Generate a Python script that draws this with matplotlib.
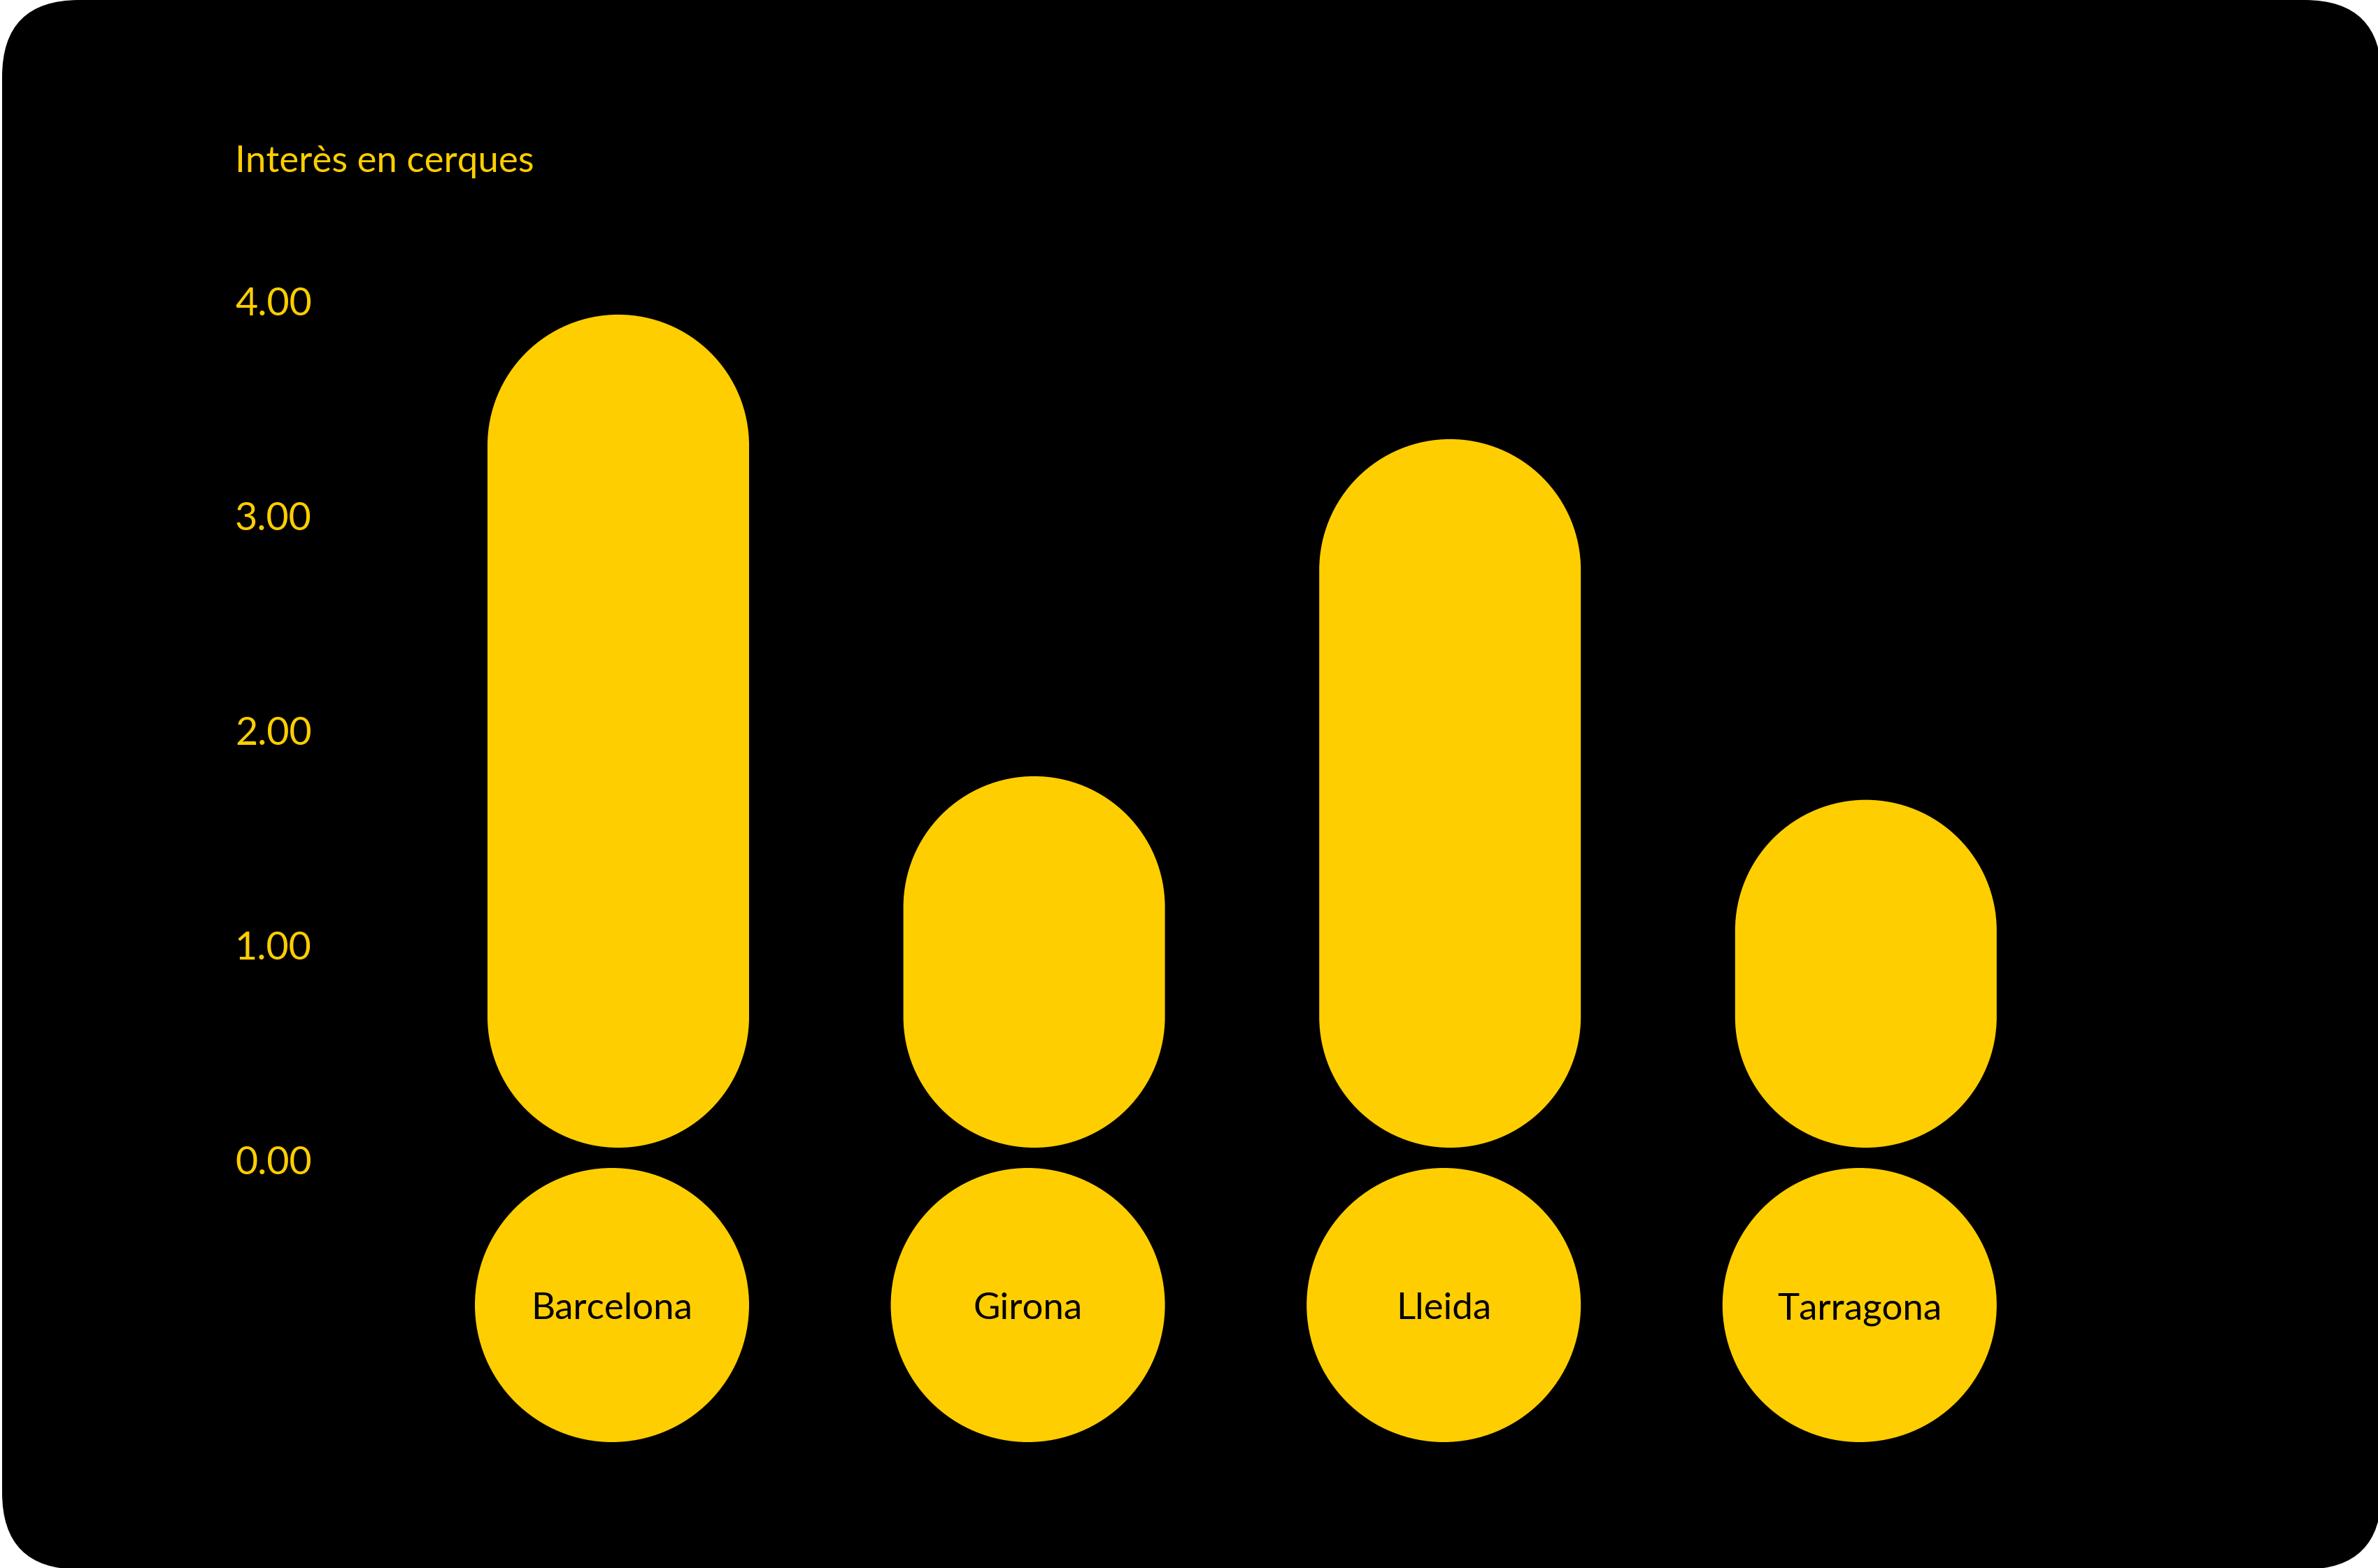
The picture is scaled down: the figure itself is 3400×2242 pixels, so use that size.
import matplotlib
matplotlib.use("Agg")
import numpy as np
import matplotlib.pyplot as plt
from matplotlib.patches import FancyBboxPatch, Ellipse, PathPatch
from matplotlib.path import Path

# ----------------------------
# Data
# ----------------------------

cities = ["Barcelona", "Girona", "Lleida", "Tarragona"]
interest = [3.88, 1.73, 3.30, 1.62]
ticks = [0, 1, 2, 3, 4]
tick_labels = ["0.00", "1.00", "2.00", "3.00", "4.00"]
title = "Interès en cerques"

YELLOW = "#FFCE00"
BLACK = "#000000"
plt.rcParams["font.family"] = ["Lato", "DejaVu Sans"]

# ----------------------------
# Layout (pixels)
# ----------------------------

W, H = 3400, 2242
px_x = 594.6    # pixels per category step
px_y = 307      # pixels per value unit
x0_px = 884     # centre of first bar
y0_px = 1641    # value 0
bar_w = 374 / px_x
circ_d = 392 / px_x
aspect = px_x / px_y
r_x = bar_w / 2
r_y = r_x * aspect


def pill(x, top):
    # vertical bar from 0 to top with fully rounded ends
    up = Path.arc(0, 180)
    down = Path.arc(180, 360)
    v1 = up.vertices * [r_x, r_y] + [x, top - r_y]
    v2 = down.vertices * [r_x, r_y] + [x, r_y]
    c2 = down.codes.copy()
    c2[0] = Path.LINETO
    verts = np.vstack([v1, v2, v1[:1]])
    codes = np.concatenate([up.codes, c2, [Path.CLOSEPOLY]])
    return Path(verts, codes)


fig = plt.figure(figsize=(W / 100, H / 100), dpi=100)
fig.patch.set_facecolor("white")

# rounded black card
bg = fig.add_axes([0, 0, 1, 1])
bg.set_xlim(0, W)
bg.set_ylim(H, 0)
bg.axis("off")
bg.add_patch(FancyBboxPatch((3, 0), 3402, 2244,
                            boxstyle="round,pad=0,rounding_size=110",
                            fc=BLACK, ec="none"))

# ----------------------------
# Chart
# ----------------------------

ax = fig.add_axes([0, 0, 1, 1])
ax.patch.set_alpha(0)
ax.set_xlim(-x0_px / px_x, (W - x0_px) / px_x)
ax.set_ylim(-(H - y0_px) / px_y, y0_px / px_y)
ax.axis("off")

circ_y = -(1866 - y0_px) / px_y
name_base = -(1886 - y0_px) / px_y

for i, (city, v) in enumerate(zip(cities, interest)):
    ax.add_patch(PathPatch(pill(i, v), fc=YELLOW, ec="none"))

    cx = i + bar_w / 2 - circ_d / 2
    ax.add_patch(Ellipse((cx, circ_y), circ_d, circ_d * aspect, fc=YELLOW, ec="none"))
    ax.text(cx, name_base, city, ha="center", va="baseline", fontsize=38, color=BLACK)

lab_x = (336 - x0_px) / px_x
for t, lab in zip(ticks, tick_labels):
    ax.text(lab_x, t - 38 / px_y, lab, ha="left", va="baseline",
            fontsize=40, color=YELLOW)

ax.text(lab_x, (y0_px - 246) / px_y, title, ha="left", va="baseline",
        fontsize=38, color=YELLOW)

plt.savefig("out.png", dpi=100)
plt.close()
